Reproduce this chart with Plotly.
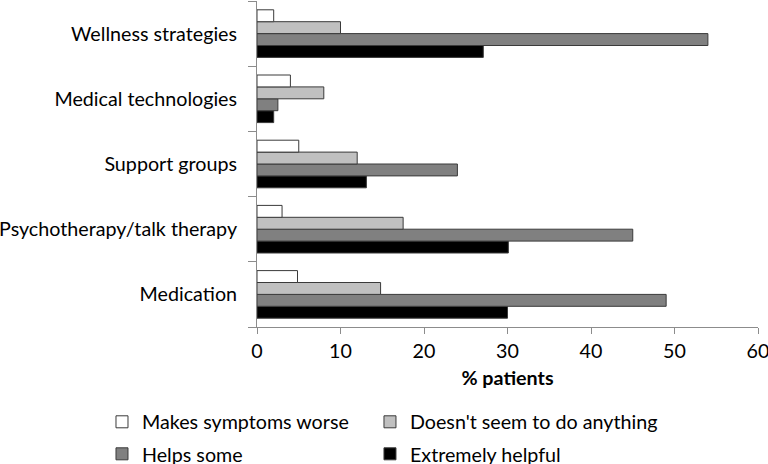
import plotly.graph_objects as go

categories = ["Medication", "Psychotherapy/talk therapy", "Support groups",
              "Medical technologies", "Wellness strategies"]
series_names = ["Makes symptoms worse", "Doesn't seem to do anything",
                "Helps some", "Extremely helpful"]
worse = [4.85, 3.0, 5.0, 4.0, 2.0]
nothing = [14.8, 17.5, 12.0, 8.0, 10.0]
helps = [49.0, 45.0, 24.0, 2.5, 54.0]
extremely = [30.0, 30.1, 13.1, 2.0, 27.1]
x_ticks = [0, 10, 20, 30, 40, 50, 60]

values = [worse, nothing, helps, extremely]
colors = ["#ffffff", "#c0c0c0", "#808080", "#000000"]
legend_ids = ["legend", "legend2", "legend3", "legend4"]
# legend placement (paper coords): column x, row y
legend_xy = [(-0.3094, -0.2914), (0.2255, -0.2914),
             (-0.3094, -0.3896), (0.2255, -0.3896)]

FONT = "Lato, Open Sans, sans-serif"
FS = 19.7

fig = go.Figure()
# add in reverse so first series sits on top within each group
for i in [3, 2, 1, 0]:
    fig.add_trace(go.Bar(
        y=categories, x=values[i], name=series_names[i], orientation="h",
        marker=dict(color=colors[i], line=dict(color="#3a3a3a", width=1)),
        legend=legend_ids[i],
    ))

legend_layout = {}
for lid, (lx, ly) in zip(legend_ids, legend_xy):
    legend_layout[lid] = dict(
        orientation="h", xanchor="left", yanchor="middle", x=lx, y=ly,
        font=dict(size=FS), itemwidth=30, bgcolor="rgba(0,0,0,0)")

fig.update_layout(
    width=768, height=464,
    margin=dict(l=257, r=10, t=1, b=137, autoexpand=False),
    paper_bgcolor="white", plot_bgcolor="white",
    barmode="group", bargap=0.27, bargroupgap=0,
    font=dict(family=FONT, size=FS, color="#000000"),
    showlegend=True,
    **legend_layout,
)

fig.update_xaxes(
    range=[0, 60], tickvals=x_ticks, ticktext=[str(v) for v in x_ticks],
    showgrid=False, zeroline=False, showline=True, linecolor="#8c8c8c",
    linewidth=1, ticks="outside", ticklen=6, tickcolor="#8c8c8c",
    tickfont=dict(size=FS), automargin=False, ticklabeloverflow="allow",
    title=dict(text="<b>% patients</b>", font=dict(size=FS), standoff=10),
)
fig.update_yaxes(
    categoryorder="array", categoryarray=categories,
    showgrid=False, zeroline=False, showline=True, linecolor="#8c8c8c",
    linewidth=1, ticks="outside", ticklen=8, tickcolor="#8c8c8c",
    tickson="boundaries", tickfont=dict(size=FS), ticklabelstandoff=15,
    automargin=False, ticklabeloverflow="allow",
)

post = ("document.body.style.margin='0';document.body.style.padding='0';"
        "document.body.style.overflow='hidden';"
        "var d=document.getElementById('{plot_id}');"
        "d.style.position='fixed';d.style.top='0px';d.style.left='0px';")

fig.write_html("out.html", post_script=post, config={"displayModeBar": False})
